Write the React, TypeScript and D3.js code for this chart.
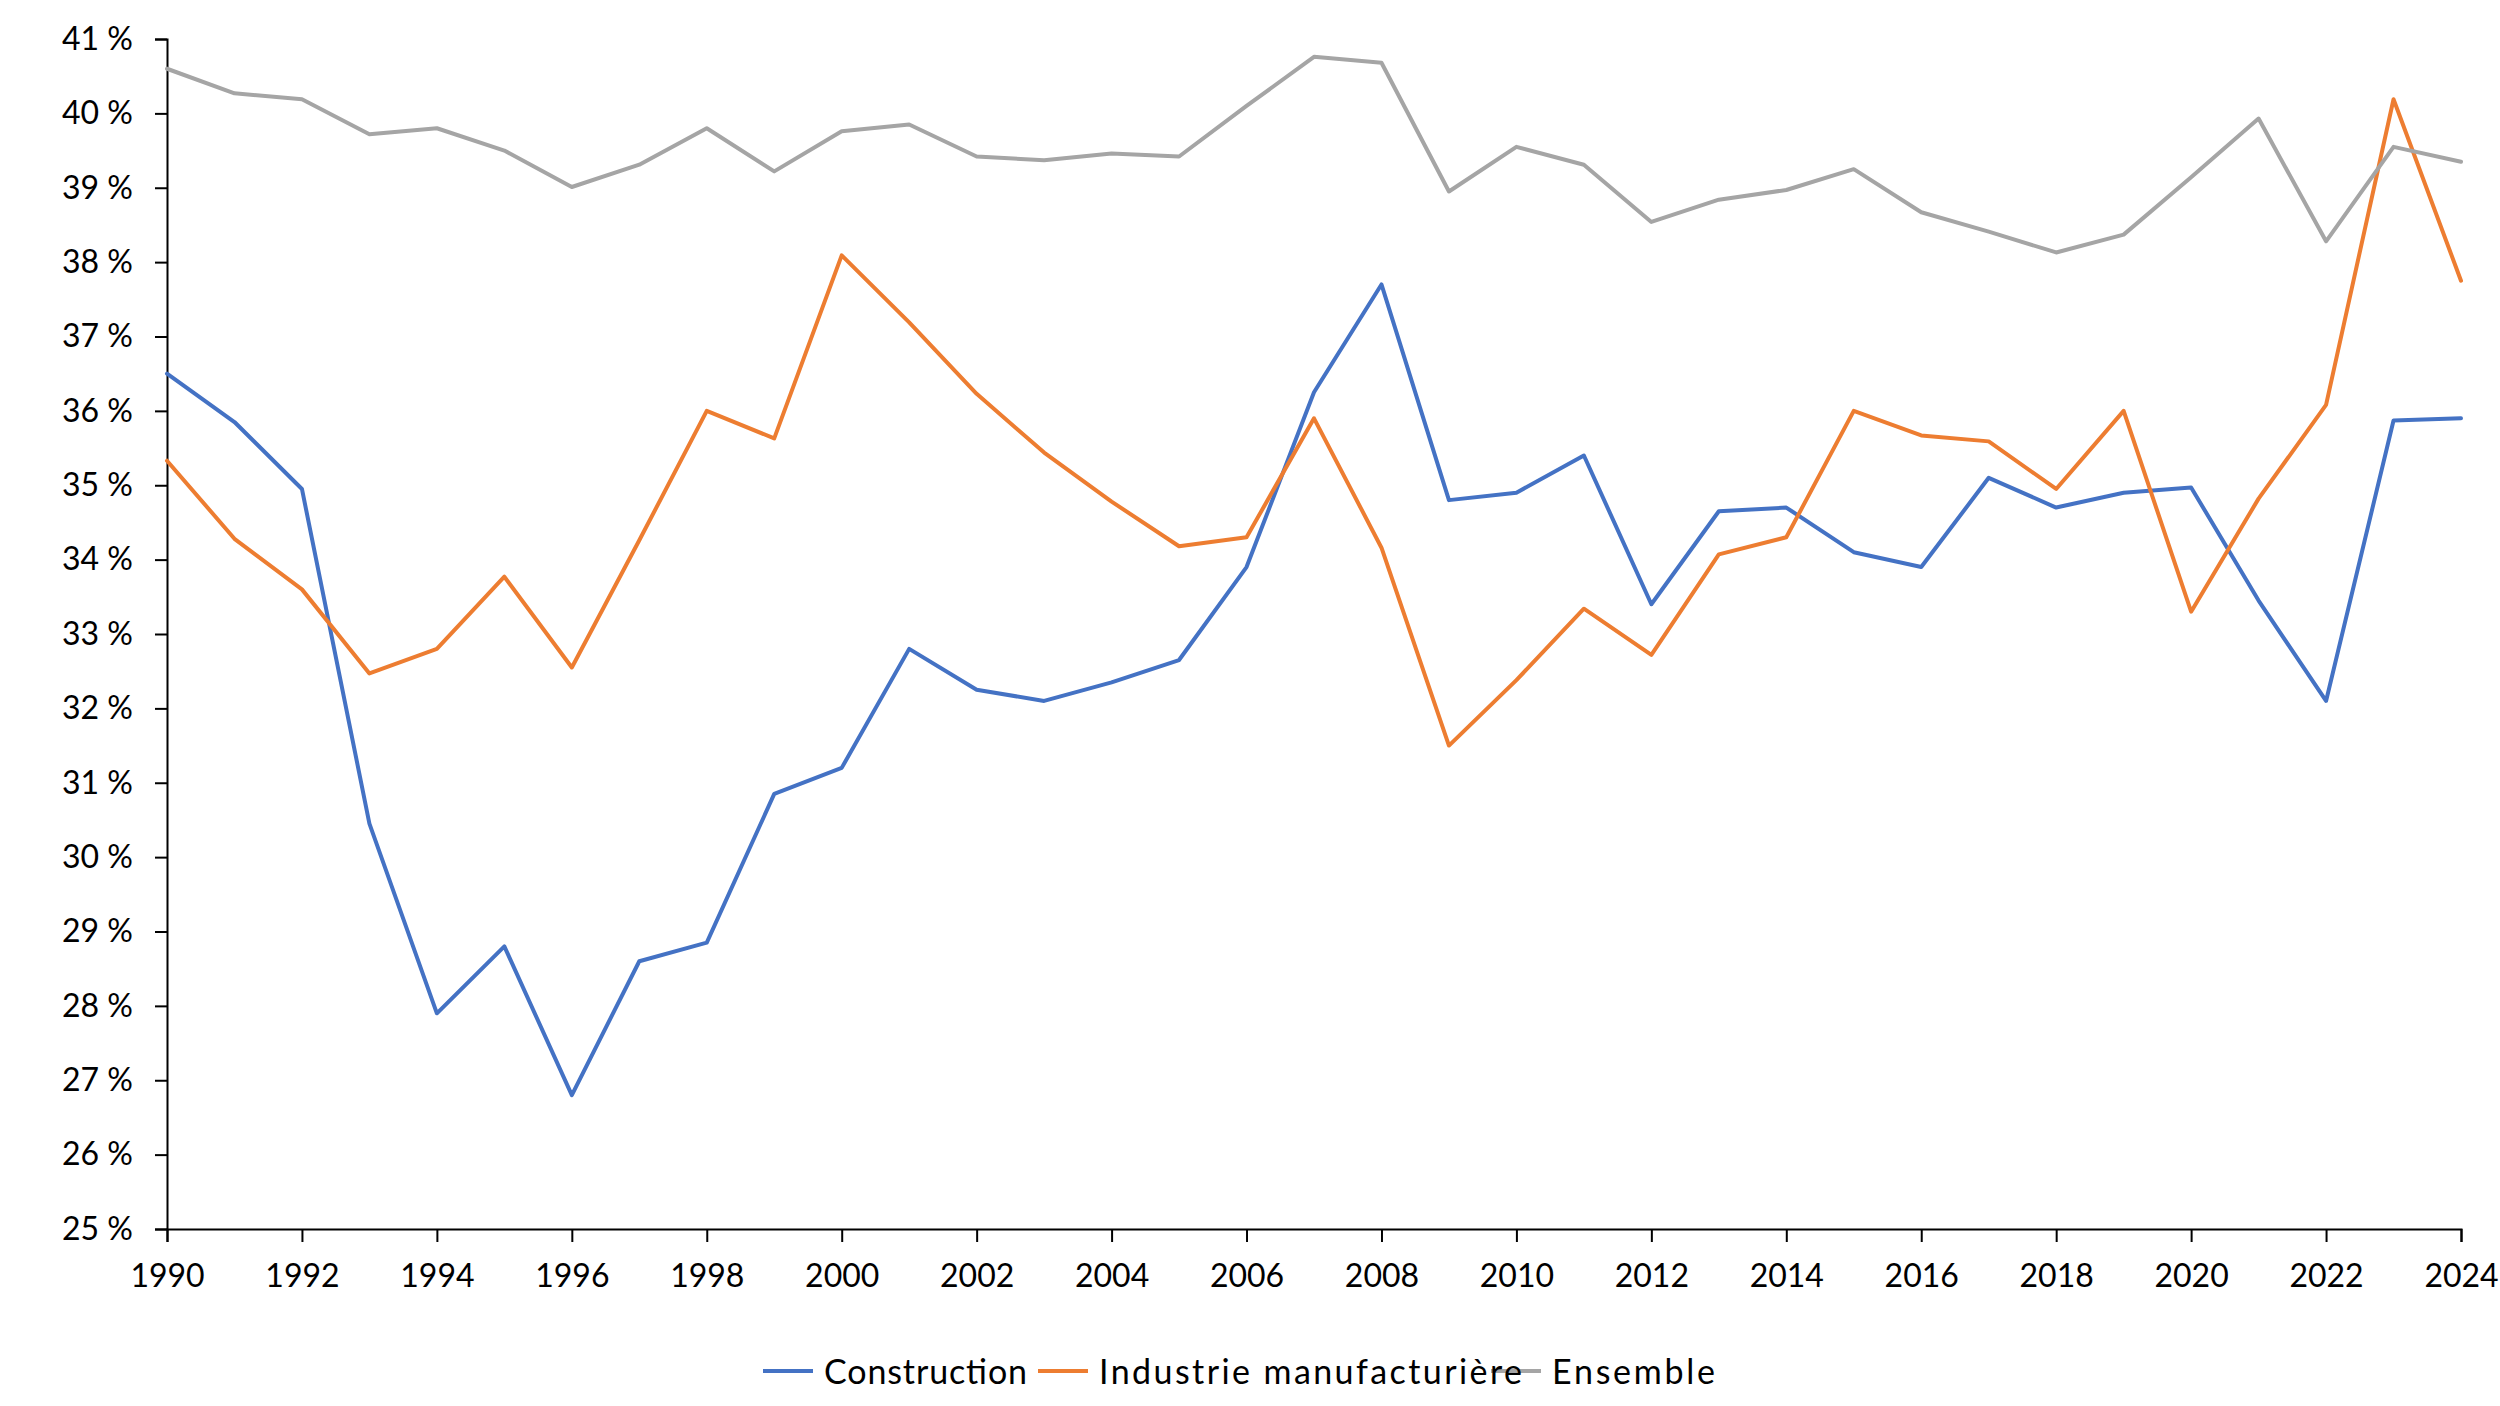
import React, { useEffect, useRef } from 'react';
import * as d3 from 'd3';

const years: number[] = d3.range(1990, 2025);

const construction: number[] = [
  36.5, 35.85, 34.95, 30.45, 27.9, 28.8, 26.8, 28.6, 28.85, 30.85,
  31.2, 32.8, 32.25, 32.1, 32.35, 32.65, 33.9, 36.25, 37.7, 34.8,
  34.9, 35.4, 33.4, 34.65, 34.7, 34.1, 33.9, 35.1, 34.7, 34.9,
  34.97, 33.45, 32.1, 35.87, 35.9,
];

const industrie: number[] = [
  35.33, 34.28, 33.6, 32.47, 32.8, 33.77, 32.55, 34.26, 36.0, 35.63,
  38.09, 37.19, 36.23, 35.44, 34.78, 34.18, 34.3, 35.9, 34.16, 31.5,
  32.38, 33.34, 32.72, 34.07, 34.3, 36.0, 35.67, 35.59, 34.95, 36.0,
  33.3, 34.82, 36.08, 40.19, 37.75,
];

const ensemble: number[] = [
  40.6, 40.27, 40.19, 39.72, 39.8, 39.5, 39.01, 39.31, 39.8, 39.22,
  39.76, 39.85, 39.42, 39.37, 39.46, 39.42, 40.1, 40.76, 40.68, 38.95,
  39.55, 39.31, 38.54, 38.84, 38.97, 39.25, 38.67, 38.41, 38.13, 38.37,
  39.14, 39.93, 38.28, 39.55, 39.35,
];

const seriesNames: string[] = ['Construction', 'Industrie manufacturière', 'Ensemble'];
const seriesColors: string[] = ['#4472C4', '#ED7D31', '#A5A5A5'];
const yTicks: number[] = d3.range(25, 42);
const xTicks: number[] = d3.range(1990, 2025, 2);

const WIDTH = 2500;
const HEIGHT = 1406;
const FONT = 'Lato, "Noto Sans", sans-serif';

export default function App() {
  const svgRef = useRef<SVGSVGElement>(null);

  useEffect(() => {
    document.body.style.margin = '0';
    if (!svgRef.current) return;
    const svg = d3.select(svgRef.current);
    svg.selectAll('*').remove();

    const left = 167;
    const right = 2461;
    const top = 39;
    const bottom = 1229;

    const x = d3.scaleLinear().domain([1990, 2024]).range([left, right]);
    const y = d3.scaleLinear().domain([25, 41]).range([bottom, top]);

    // y axis
    const yAxis = svg
      .append('g')
      .attr('transform', `translate(${left},0)`)
      .call(
        d3.axisLeft(y)
          .tickValues(yTicks)
          .tickSize(12)
          .tickPadding(22)
          .tickFormat((d) => `${d} %`)
      );
    yAxis.select('.domain').attr('stroke', '#000').attr('stroke-width', 2);
    yAxis.selectAll('.tick line').attr('stroke', '#000').attr('stroke-width', 2);
    yAxis
      .selectAll('.tick text')
      .attr('font-family', FONT)
      .attr('font-size', 32)
      .attr('fill', '#000');

    // x axis
    const xAxis = svg
      .append('g')
      .attr('transform', `translate(0,${bottom})`)
      .call(
        d3.axisBottom(x)
          .tickValues(xTicks)
          .tickSize(13)
          .tickPadding(22)
          .tickFormat((d) => `${d}`)
      );
    xAxis.select('.domain').attr('stroke', '#000').attr('stroke-width', 2);
    xAxis.selectAll('.tick line').attr('stroke', '#000').attr('stroke-width', 2);
    xAxis
      .selectAll('.tick text')
      .attr('font-family', FONT)
      .attr('font-size', 32)
      .attr('fill', '#000');

    // lines
    const line = d3
      .line<number>()
      .x((_, i) => x(years[i]))
      .y((d) => y(d));

    const allSeries = [construction, industrie, ensemble];
    // draw ensemble first, then industrie, then construction on top? keep Excel order
    allSeries.forEach((values, i) => {
      svg
        .append('path')
        .datum(values)
        .attr('fill', 'none')
        .attr('stroke', seriesColors[i])
        .attr('stroke-width', 4)
        .attr('stroke-linejoin', 'round')
        .attr('stroke-linecap', 'round')
        .attr('d', line);
    });

    // legend
    const legendY = 1371;
    const legendStarts = [763, 1038, 1491];
    const legendWidths = [203, 423, 163];
    const legend = svg.append('g');
    seriesNames.forEach((name, i) => {
      legend
        .append('line')
        .attr('x1', legendStarts[i])
        .attr('x2', legendStarts[i] + 50)
        .attr('y1', legendY)
        .attr('y2', legendY)
        .attr('stroke', seriesColors[i])
        .attr('stroke-width', 4);
    });
    seriesNames.forEach((name, i) => {
      legend
        .append('text')
        .attr('x', legendStarts[i] + 61)
        .attr('y', legendY + 13)
        .attr('font-family', FONT)
        .attr('font-size', 34)
        .attr('fill', '#000')
        .attr('textLength', legendWidths[i])
        .attr('lengthAdjust', 'spacing')
        .text(name);
    });
  }, []);

  return (
    <svg
      ref={svgRef}
      width={WIDTH}
      height={HEIGHT}
      style={{ display: 'block', background: '#fff' }}
    />
  );
}
